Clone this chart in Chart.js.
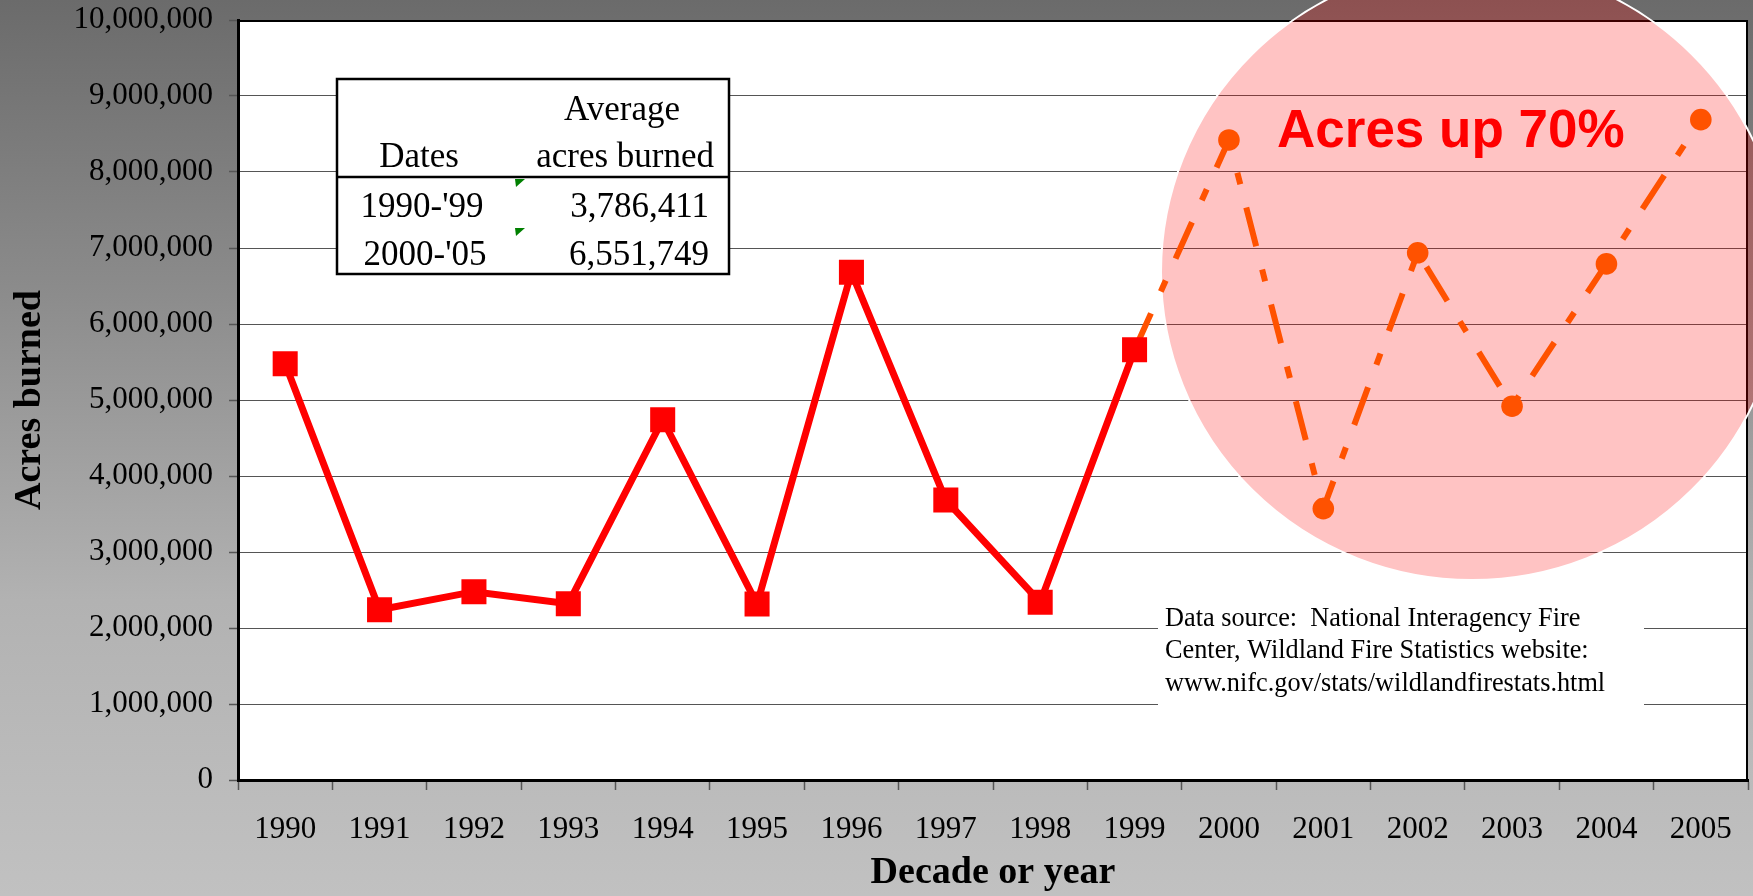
<!DOCTYPE html>
<html>
<head>
<meta charset="utf-8">
<script src="https://cdn.jsdelivr.net/npm/chart.js@4/dist/chart.umd.min.js"></script>
<style>
  html, body { margin: 0; padding: 0; background: #fff; }
  #wrap { width: 1753px; height: 896px; }
</style>
</head>
<body>
<div id="wrap"><canvas id="c" width="1753" height="896"></canvas></div>
<script>
// ---- data ----
const years = ['1990','1991','1992','1993','1994','1995','1996','1997','1998','1999','2000','2001','2002','2003','2004','2005'];
const acres1990s = [5478000, 2240000, 2478000, 2320000, 4740000, 2316000, 6680000, 3684000, 2340000, 5660000, null, null, null, null, null, null];
const acres2000s = [null, null, null, null, null, null, null, null, null, 5660000, 8422000, 3571000, 6937000, 4918000, 6791000, 8689000];
const tableHeader = ['Dates', 'Average', 'acres burned'];
const tableDates = ["1990-'99", "2000-'05"];
const tableAverages = ['3,786,411', '6,551,749'];
const sourceLines = ['Data source:  National Interagency Fire', 'Center, Wildland Fire Statistics website:', 'www.nifc.gov/stats/wildlandfirestats.html'];
const calloutText = 'Acres up 70%';
const yMin = 0, yMax = 10000000, yStep = 1000000;

const SERIF = "'Liberation Serif', 'Times New Roman', serif";
const SANS = "'Liberation Sans', Arial, sans-serif";

const decor = {
  id: 'decor',
  beforeDraw(chart) {
    const { ctx, width, height, chartArea: a } = chart;
    ctx.save();
    const g = ctx.createLinearGradient(0, 0, 0, height);
    g.addColorStop(0, 'rgb(107,107,107)');
    g.addColorStop(0.33, 'rgb(140,140,140)');
    g.addColorStop(0.67, 'rgb(178,178,178)');
    g.addColorStop(0.89, 'rgb(188,188,188)');
    g.addColorStop(1, 'rgb(193,193,193)');
    ctx.fillStyle = g;
    ctx.fillRect(0, 0, width, height);
    ctx.fillStyle = '#fff';
    ctx.fillRect(a.left, a.top, a.right - a.left, a.bottom - a.top);
    ctx.restore();
  },
  beforeDatasetsDraw(chart) {
    const { ctx, chartArea: a } = chart;
    ctx.save();
    // top and right frame of plot area
    ctx.strokeStyle = '#000';
    ctx.lineWidth = 2;
    ctx.beginPath();
    ctx.moveTo(a.left, a.top + 1);
    ctx.lineTo(a.right - 1, a.top + 1);
    ctx.lineTo(a.right - 1, a.bottom);
    ctx.stroke();

    // averages table
    ctx.fillStyle = '#fff';
    ctx.fillRect(337, 79, 392, 195);
    ctx.lineWidth = 2.5;
    ctx.strokeRect(337, 79, 392, 195);
    ctx.beginPath();
    ctx.moveTo(337, 177); ctx.lineTo(729, 177);
    ctx.stroke();
    ctx.fillStyle = '#000';
    ctx.font = '35px ' + SERIF;
    ctx.textBaseline = 'alphabetic';
    ctx.textAlign = 'center';
    ctx.fillText(tableHeader[1], 622, 120);
    ctx.fillText(tableHeader[0], 419, 167);
    ctx.textAlign = 'right';
    ctx.fillText(tableHeader[2], 714, 167);
    const rowY = [217, 265];
    const rowX = [422, 425];
    for (let i = 0; i < tableDates.length; i++) {
      ctx.textAlign = 'center';
      ctx.fillText(tableDates[i], rowX[i], rowY[i]);
      ctx.textAlign = 'right';
      ctx.fillText(tableAverages[i], 709, rowY[i]);
    }
    // small green indicators
    ctx.fillStyle = '#008000';
    [179, 228].forEach(y => {
      ctx.beginPath();
      ctx.moveTo(515, y); ctx.lineTo(525, y); ctx.lineTo(516, y + 8); ctx.closePath();
      ctx.fill();
    });

    // data source box
    ctx.fillStyle = '#fff';
    ctx.fillRect(1158, 596, 486, 122);
    ctx.fillStyle = '#000';
    ctx.font = '26.3px ' + SERIF;
    ctx.textAlign = 'left';
    [626, 658, 691].forEach((y, i) => ctx.fillText(sourceLines[i], 1165, y));

    // highlight ellipse
    ctx.beginPath();
    ctx.ellipse(1472, 272, 311, 308, 0, 0, Math.PI * 2);
    ctx.fillStyle = 'rgba(255,0,0,0.235)';
    ctx.fill();
    ctx.strokeStyle = '#fff';
    ctx.lineWidth = 2;
    ctx.stroke();
    ctx.restore();
  },
  afterDatasetsDraw(chart) {
    const { ctx } = chart;
    ctx.save();
    ctx.fillStyle = '#ff0000';
    ctx.font = 'bold 53px ' + SANS;
    ctx.textAlign = 'left';
    ctx.textBaseline = 'alphabetic';
    ctx.fillText(calloutText, 1277, 147);
    ctx.restore();
  }
};

const orangeRadius = acres2000s.map((v, i) => (v === null || i === 9) ? 0 : 10.8);

new Chart(document.getElementById('c'), {
  type: 'line',
  data: {
    labels: years,
    datasets: [
      {
        label: '1990s',
        data: acres1990s,
        borderColor: '#ff0000',
        backgroundColor: '#ff0000',
        borderWidth: 7,
        pointStyle: 'rect',
        pointRadius: 17.7,
        pointHoverRadius: 17.7,
        pointBorderWidth: 0,
        pointBackgroundColor: '#ff0000',
        tension: 0,
        spanGaps: false,
        order: 0
      },
      {
        label: '2000s',
        data: acres2000s,
        borderColor: '#ff5200',
        backgroundColor: '#ff5200',
        borderWidth: 6,
        borderDash: [40, 24, 12, 24],
        borderCapStyle: 'butt',
        pointStyle: 'circle',
        pointRadius: orangeRadius,
        pointHoverRadius: orangeRadius,
        pointBorderWidth: 0,
        pointBackgroundColor: '#ff5200',
        tension: 0,
        order: 1
      }
    ]
  },
  options: {
    responsive: false,
    animation: false,
    devicePixelRatio: 1,
    layout: { autoPadding: false, padding: { top: 20, right: 5, left: 0, bottom: 0 } },
    plugins: {
      legend: { display: false },
      tooltip: { enabled: false },
      title: { display: false }
    },
    scales: {
      x: {
        type: 'category',
        offset: true,
        afterFit(scale) {
          scale.height = 116;
          scale.paddingLeft = 0; scale.paddingRight = 0;
          scale.paddingTop = 0; scale.paddingBottom = 0;
        },
        grid: {
          offset: true,
          drawOnChartArea: false,
          drawTicks: true,
          tickLength: 10,
          tickColor: '#555',
          tickWidth: 1.5
        },
        border: { display: true, color: '#000', width: 3 },
        ticks: {
          color: '#000',
          font: { family: SERIF, size: 31, lineHeight: 1.2 },
          padding: 21,
          autoSkip: false,
          maxRotation: 0,
          minRotation: 0
        },
        title: {
          display: true,
          text: 'Decade or year',
          color: '#000',
          font: { family: SERIF, size: 38, weight: 'bold', lineHeight: 1.2 },
          padding: { top: 0, bottom: 0 }
        }
      },
      y: {
        min: yMin,
        max: yMax,
        afterFit(scale) {
          scale.width = 238;
          scale.paddingTop = 0; scale.paddingBottom = 0;
          scale.paddingLeft = 0; scale.paddingRight = 0;
        },
        grid: {
          color: '#555',
          lineWidth: 1,
          drawTicks: true,
          tickLength: 9,
          tickColor: '#555',
          tickWidth: 1.5
        },
        border: { display: true, color: '#000', width: 3 },
        ticks: {
          stepSize: yStep,
          color: '#000',
          font: { family: SERIF, size: 31 },
          padding: 16,
          callback: v => Number(v).toLocaleString('en-US')
        },
        title: {
          display: true,
          text: 'Acres burned',
          color: '#000',
          font: { family: SERIF, size: 38, weight: 'bold', lineHeight: 1.2 },
          padding: { top: 7, bottom: 0 }
        }
      }
    }
  },
  plugins: [decor]
});
</script>
</body>
</html>
